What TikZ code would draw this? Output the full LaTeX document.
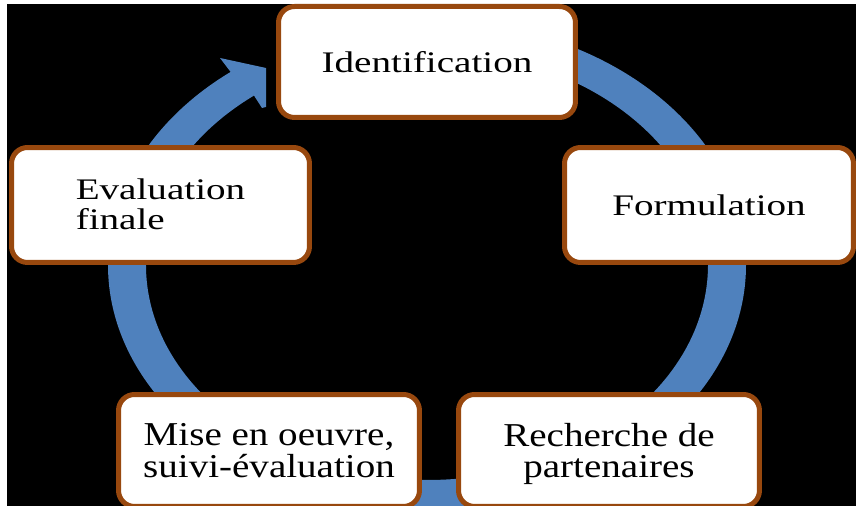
\documentclass[tikz,border=0pt]{standalone}
\usepackage{fontspec}
\setmainfont{Liberation Serif}
\usepackage{graphicx}
\definecolor{ringblue}{RGB}{79,129,189}
\definecolor{boxbrown}{RGB}{152,72,14}
\newcommand{\stx}[1]{\scalebox{1.31}[1]{#1}}
\newcommand{\stxl}[1]{\raisebox{-2pt}[\height][\depth]{\scalebox{1.31}[1]{\begin{tabular}{@{}l@{}}#1\end{tabular}}}}
\newcommand{\stxc}[1]{\raisebox{-2.5pt}[\height][\depth]{\scalebox{1.17}[1]{\begin{tabular}{@{}c@{}}#1\end{tabular}}}}
\begin{document}
\begin{tikzpicture}[x=0.02cm,y=0.02cm,
  stage/.style={draw=boxbrown, line width=0.1cm, rounded corners=0.32cm,
    fill=white, inner sep=0pt, text=black,
    font=\fontsize{17}{16.2}\selectfont},
  lowstage/.style={stage, font=\fontsize{19}{16.2}\selectfont}]
\useasboundingbox (0,0) rectangle (856,506);
\clip (0,0) rectangle (856,506);
\fill[white] (0,0) rectangle (856,506);
\fill[black] (7,0) rectangle (856,502);
% ring arrow
\coordinate (c) at (427,241);
\coordinate (barbout) at (220,448);
\coordinate (tipa) at (266,438);
\coordinate (tipb) at (266,399);
\coordinate (barbin) at (262,398);
\fill[ringblue] ([shift={(90:319 and 245)}]c)
  arc[start angle=90, end angle=-232, x radius=319, y radius=245]
  -- (barbout) -- (tipa) -- (tipb) -- (barbin)
  -- ([shift={(-232:281 and 215)}]c)
  arc[start angle=-232, end angle=90, x radius=281, y radius=215] -- cycle;
% boxes
\node[stage, minimum width=5.94cm, minimum height=2.22cm] (ident) at (427,444) {\stx{Identification}};
\node[stage, minimum width=5.78cm, minimum height=2.30cm] (form) at (709,301) {\stx{Formulation}};
\node[stage, minimum width=5.96cm, minimum height=2.30cm] (eval) at (160.5,301) {\stxl{Evaluation\\finale}};
\node[lowstage, minimum width=6.02cm, minimum height=2.24cm] (mise) at (269,55.5) {\stxc{Mise en oeuvre,\\suivi-évaluation}};
\node[lowstage, minimum width=6.02cm, minimum height=2.24cm] (rech) at (609,55.5) {\stxc{Recherche de\\partenaires}};
\end{tikzpicture}
\end{document}
